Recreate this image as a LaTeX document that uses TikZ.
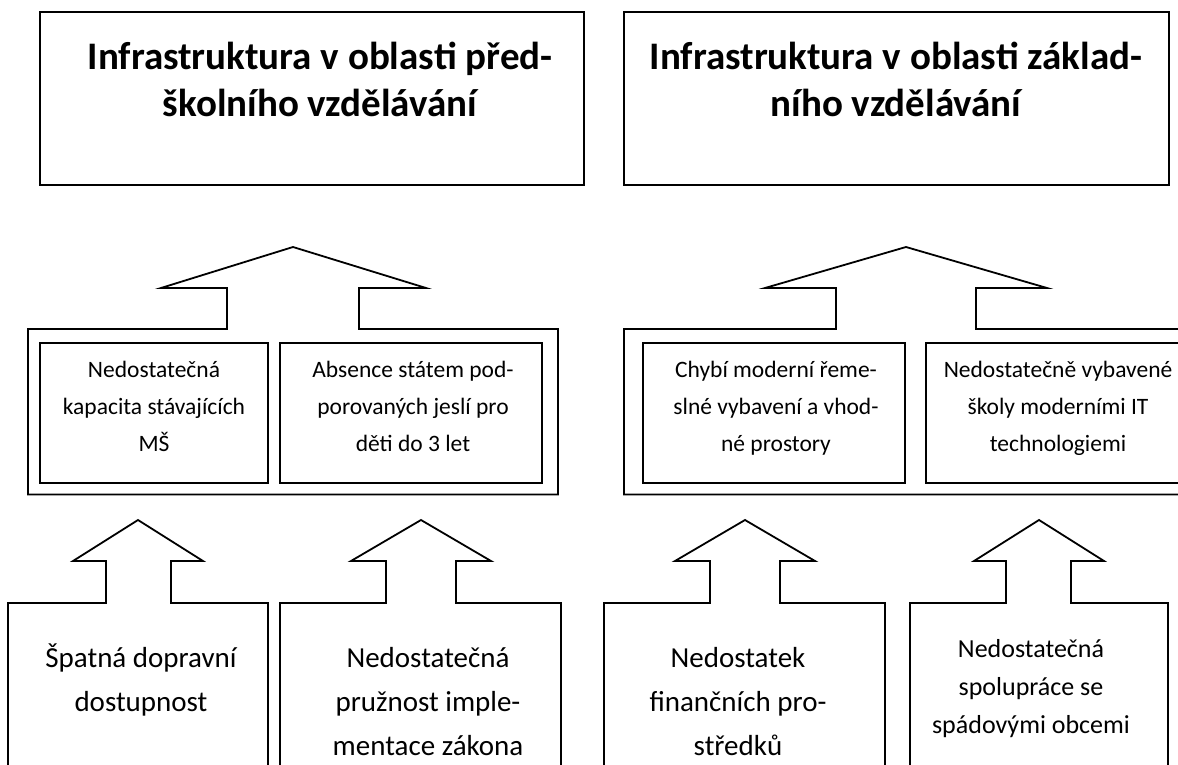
\documentclass[tikz,border=0pt]{standalone}
\usepackage{fontspec}
\setmainfont{Carlito}
\begin{document}
\begin{tikzpicture}[x=1pt,y=-1pt,
  outline/.style={draw=black, line width=1.8pt, line join=miter},
  ttl/.style={font=\fontsize{39}{47}\selectfont\bfseries, align=center, inner sep=0pt, anchor=north},
  innertxt/.style={font=\fontsize{23.5}{37}\selectfont, align=center, inner sep=0pt, anchor=north},
  bottxt/.style={font=\fontsize{29}{44}\selectfont, align=center, inner sep=0pt, anchor=north},
  botsmall/.style={font=\fontsize{26}{38}\selectfont, align=center, inner sep=0pt, anchor=north}]
\useasboundingbox (0,0) rectangle (1178,765);
\fill[white] (0,0) rectangle (1178,765);
\clip (0,0) rectangle (1178,765);

% title boxes
\draw[outline] (40,12) rectangle (584,185);
\draw[outline] (624,12) rectangle (1169,185);
\node[ttl] (titleL) at (320,36.1) {\strut Infrastruktura v oblasti před-\\školního vzdělávání};
\node[ttl] (titleR) at (896,36.1) {\strut Infrastruktura v oblasti základ-\\ního vzdělávání};

% middle left frame with arrow
\draw[outline] (28,494.5) -- (28,329) -- (227,329) -- (227,288) -- (161,288) -- (293,247)
  -- (426,288) -- (359,288) -- (359,329) -- (558,329) -- (558,494.5) -- cycle;
\draw[outline] (40,343) rectangle (268,483);
\draw[outline] (280,343) rectangle (542,483);
\node[innertxt] (m1) at (154,351.6) {\strut Nedostatečná\\kapacita stávajících\\MŠ};
\node[innertxt] (m2) at (413,351.6) {\strut Absence státem pod-\\porovaných jeslí pro\\děti do 3 let};

% middle right frame with arrow
\draw[outline] (624,494.5) -- (624,329) -- (836,329) -- (836,288) -- (765,288) -- (906,247)
  -- (1047,288) -- (976,288) -- (976,329) -- (1210,329) -- (1210,494.5) -- cycle;
\draw[outline] (643,343) rectangle (905,483);
\draw[outline] (926,343) rectangle (1190,483);
\node[innertxt] (m3) at (776,351.6) {\strut Chybí moderní řeme-\\slné vybavení a vhod-\\né prostory};
\node[innertxt] (m4) at (1058,351.6) {\strut Nedostatečně vybavené\\školy moderními IT\\technologiemi};

% bottom arrow boxes
\draw[outline] (8,780) -- (8,603) -- (106,603) -- (106,561) -- (73,561) -- (138,520)
  -- (203,561) -- (171,561) -- (171,603) -- (268,603) -- (268,780);
\draw[outline] (280,780) -- (280,603) -- (386,603) -- (386,561) -- (351,561) -- (421,520)
  -- (491,561) -- (456,561) -- (456,603) -- (561,603) -- (561,780);
\draw[outline] (604,780) -- (604,603) -- (710,603) -- (710,561) -- (675,561) -- (745,520)
  -- (815,561) -- (780,561) -- (780,603) -- (885,603) -- (885,780);
\draw[outline] (910,780) -- (910,603) -- (1006,603) -- (1006,561) -- (974,561) -- (1039,520)
  -- (1104,561) -- (1071,561) -- (1071,603) -- (1168,603) -- (1168,780);

\node[bottxt] (b1) at (141,636.2) {\strut Špatná dopravní\\dostupnost};
\node[bottxt] (b2) at (428,636.2) {\strut Nedostatečná\\pružnost imple-\\mentace zákona};
\node[bottxt] (b3) at (738,636.2) {\strut Nedostatek\\finančních pro-\\středků};
\node[botsmall] (b4) at (1031,630.4) {\strut Nedostatečná\\spolupráce se\\spádovými obcemi};
\end{tikzpicture}
\end{document}
